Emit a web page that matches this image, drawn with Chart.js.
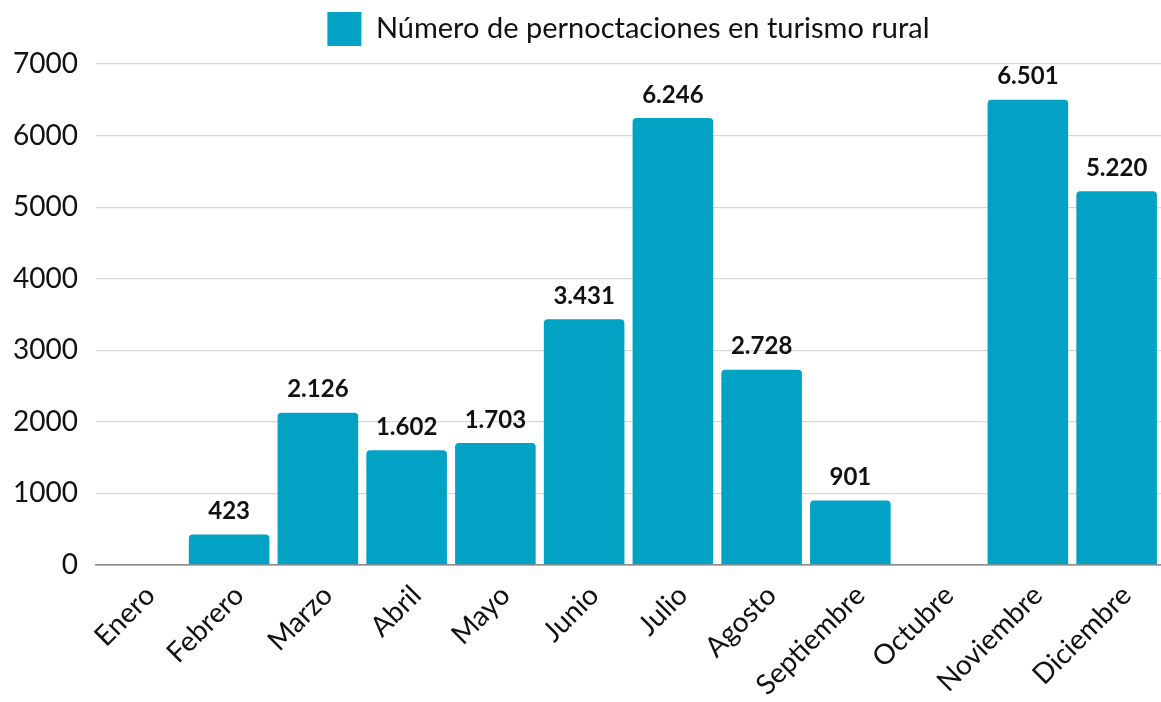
<!DOCTYPE html>
<html>
<head>
<meta charset="utf-8">
<script src="https://cdn.jsdelivr.net/npm/chart.js@4.4.0/dist/chart.umd.min.js"></script>
<style>
  html, body { margin: 0; padding: 0; background: #fff; }
  #wrap { width: 1161px; height: 702px; }
</style>
</head>
<body>
<div id="wrap"><canvas id="c"></canvas></div>
<script>
// ---- Datos ----
const meses = ['Enero', 'Febrero', 'Marzo', 'Abril', 'Mayo', 'Junio', 'Julio',
               'Agosto', 'Septiembre', 'Octubre', 'Noviembre', 'Diciembre'];
const pernoctaciones = [null, 423, 2126, 1602, 1703, 3431, 6246, 2728, 901, null, 6501, 5220];
const serieNombre = 'Número de pernoctaciones en turismo rural';

const azul = '#02a2c5';
const fuente = 'Lato, "Open Sans", sans-serif';

// ---- Etiquetas encima de las barras (formato 6.246) ----
const etiquetas = {
  id: 'etiquetas',
  afterDatasetsDraw(chart) {
    const ctx = chart.ctx;
    const meta = chart.getDatasetMeta(0);
    ctx.save();
    ctx.font = 'bold 24px ' + fuente;
    ctx.fillStyle = '#111';
    ctx.textAlign = 'center';
    ctx.textBaseline = 'bottom';
    meta.data.forEach((bar, i) => {
      const v = pernoctaciones[i];
      if (v == null) return;
      const txt = v.toLocaleString('de-DE');
      ctx.fillText(txt, bar.x, bar.y - 11);
    });
    ctx.restore();
  }
};

// ---- Leyenda: mas espacio debajo y centrada sobre el area del grafico ----
const ajusteLeyenda = {
  id: 'ajusteLeyenda',
  beforeInit(chart) {
    if (!chart.legend) return;
    const fit = chart.legend.fit;
    chart.legend.fit = function () {
      fit.call(this);
      this.height += 8;
    };
  },
  afterLayout(chart) {
    const lg = chart.legend;
    if (!lg) return;
    const d = (chart.chartArea.left + 1161) / 2 - (lg.left + lg.right) / 2;
    lg.left += d;
    lg.right += d;
  }
};

new Chart(document.getElementById('c').getContext('2d'), {
  type: 'bar',
  data: {
    labels: meses,
    datasets: [{
      label: serieNombre,
      data: pernoctaciones,
      backgroundColor: azul,
      borderRadius: { topLeft: 4, topRight: 4 },
      borderSkipped: 'bottom',
      barPercentage: 0.908,
      categoryPercentage: 1
    }]
  },
  options: {
    responsive: true,
    maintainAspectRatio: false,
    animation: false,
    layout: { padding: { top: 2, right: -4, left: 0, bottom: -6 } },
    plugins: {
      legend: {
        position: 'top',
        labels: {
          font: { family: fuente, size: 29 },
          color: '#111',
          boxWidth: 34,
          boxHeight: 34,
          padding: 10
        }
      },
      tooltip: { enabled: false }
    },
    scales: {
      x: {
        grid: { display: false },
        border: { display: true, color: '#8c8c8c', width: 1.5 },
        ticks: {
          font: { family: fuente, size: 28 },
          color: '#111',
          maxRotation: 45,
          minRotation: 45,
          padding: 6,
          labelOffset: 10
        }
      },
      y: {
        min: 0,
        max: 7000,
        grid: {
          color: ctx => ctx.tick.value === 0 ? '#8c8c8c' : '#d6d6d6',
          lineWidth: 1.2,
          drawTicks: false
        },
        border: { display: false },
        ticks: {
          stepSize: 1000,
          font: { family: fuente, size: 28 },
          color: '#111',
          padding: 18,
          callback: v => String(v)
        },
        afterFit(scale) { scale.width = 96; }
      }
    }
  },
  plugins: [etiquetas, ajusteLeyenda]
});
</script>
</body>
</html>
